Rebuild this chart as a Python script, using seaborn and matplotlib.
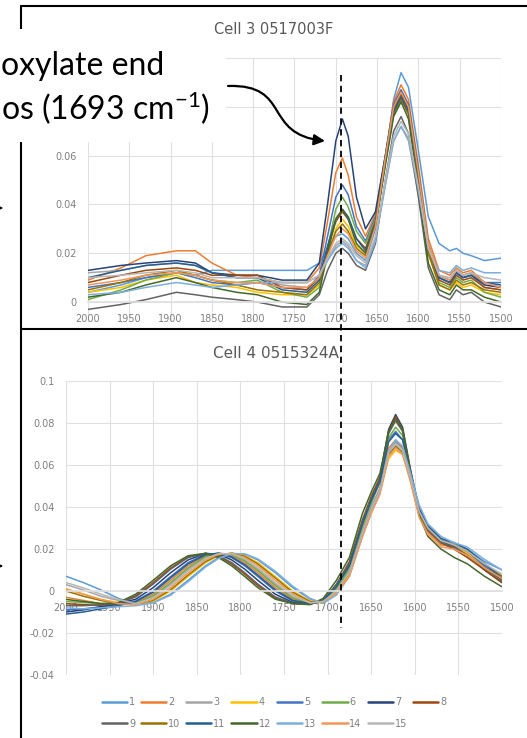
import numpy as np
import pandas as pd
import matplotlib
matplotlib.use("Agg")
import matplotlib.pyplot as plt
import seaborn as sns
from matplotlib.patches import Rectangle, FancyArrowPatch
from matplotlib.path import Path
from matplotlib.lines import Line2D
from matplotlib.ticker import FuncFormatter, MultipleLocator

# --- data (absorbance in units of 1e-3) ---
c3_wavenumber = [2000, 1960, 1930, 1893, 1870, 1850, 1820, 1795, 1765, 1735, 1720, 1710, 1700, 1692, 1685,
                 1675, 1664, 1652, 1640, 1630, 1621, 1612, 1600, 1588, 1575, 1562, 1554, 1546, 1536, 1520, 1500]

c3_01 = [4, 7, 10, 12, 11, 13, 13, 13, 13, 13, 16, 22, 27, 28, 26, 20, 17, 30, 58, 83, 94, 88, 62, 35, 24, 21, 22, 20, 19, 17, 18]
c3_02 = [9, 14, 19, 21, 21, 16, 11, 10, 8, 8, 14, 33, 53, 59, 52, 35, 27, 36, 60, 82, 89, 83, 56, 26, 13, 11, 14, 12, 13, 8, 6]
c3_03 = [12, 13, 15, 16, 15, 12, 10, 10, 7, 6, 10, 17, 23, 25, 23, 17, 15, 26, 48, 66, 72, 66, 44, 20, 10, 8, 12, 10, 11, 6, 5]
c3_04 = [4, 6, 9, 11, 8, 7, 6, 4, 3, 3, 7, 18, 30, 34, 31, 23, 20, 32, 58, 78, 84, 77, 50, 20, 7, 5, 8, 6, 7, 4, 3]
c3_05 = [6, 8, 10, 12, 10, 8, 7, 8, 6, 5, 11, 27, 43, 48, 44, 31, 25, 35, 60, 81, 87, 81, 54, 24, 11, 9, 13, 11, 12, 8, 8]
c3_06 = [1, 5, 9, 12, 11, 9, 8, 9, 4, 2, 6, 22, 38, 43, 39, 29, 24, 34, 59, 79, 85, 79, 51, 20, 8, 6, 10, 8, 9, 4, 2]
c3_07 = [13, 15, 16, 17, 16, 12, 11, 11, 9, 9, 16, 40, 66, 75, 68, 43, 30, 37, 60, 80, 86, 80, 53, 23, 10, 8, 12, 10, 11, 7, 6]
c3_08 = [8, 11, 13, 14, 13, 11, 11, 11, 6, 5, 10, 22, 33, 37, 34, 26, 22, 33, 58, 79, 85, 79, 52, 22, 9, 7, 11, 9, 10, 6, 5]
c3_09 = [-3, -1, 1, 4, 3, 2, 1, 0, -2, -2, 3, 13, 20, 22, 20, 15, 13, 24, 50, 70, 76, 69, 43, 14, 3, 1, 5, 3, 4, 0, -2]
c3_10 = [5, 8, 11, 13, 11, 9, 7, 5, 4, 3, 8, 19, 29, 32, 29, 22, 19, 31, 57, 77, 83, 77, 50, 20, 7, 5, 9, 7, 8, 5, 4]
c3_11 = [10, 13, 15, 16, 15, 12, 10, 10, 5, 4, 9, 23, 34, 38, 35, 26, 21, 32, 58, 78, 84, 78, 52, 23, 10, 8, 12, 10, 11, 8, 7]
c3_12 = [2, 4, 7, 10, 8, 6, 4, 3, 0, -1, 4, 20, 34, 38, 34, 24, 20, 31, 56, 76, 82, 75, 47, 16, 5, 3, 7, 5, 5, 2, 0]
c3_13 = [3, 4, 6, 8, 7, 6, 7, 8, 8, 8, 11, 17, 22, 24, 22, 17, 14, 25, 48, 66, 72, 67, 46, 22, 13, 12, 15, 13, 14, 12, 12]
c3_14 = [7, 9, 11, 12, 11, 9, 8, 8, 6, 6, 10, 19, 27, 30, 28, 21, 18, 31, 59, 80, 86, 80, 53, 24, 11, 9, 13, 11, 12, 8, 6]
c3_15 = [10, 11, 12, 13, 12, 10, 10, 10, 8, 8, 11, 18, 24, 26, 24, 19, 16, 27, 50, 68, 74, 69, 47, 22, 11, 10, 13, 11, 12, 10, 9]

c4_wavenumber = [2000, 1980, 1960, 1940, 1920, 1900, 1880, 1860, 1840, 1825, 1810, 1795, 1780, 1760, 1740, 1720, 1705,
                 1690, 1675, 1660, 1650, 1640, 1630, 1622, 1614, 1605, 1595, 1585, 1570, 1555, 1540, 1520, 1500]

c4_01 = [7, 4, 0.5, -3.5, -6, -5.5, -1.5, 5.1, 12, 15.9, 17.9, 17.5, 14.8, 8.7, 1.6, -3.9, -5.9,
         -1, 8, 28, 39, 48, 66, 71, 68, 55, 40, 31, 25, 22, 20, 14, 10]
c4_02 = [-3, -4.5, -6, -6.5, -5.5, -1.5, 5.1, 12, 16.8, 18, 16.8, 13.5, 8.7, 1.6, -3.9, -6, -5,
         0, 9, 29, 39, 49, 68, 72, 68, 53, 36, 28, 22, 21, 18, 12, 6]
c4_03 = [3, 0.5, -2.5, -4.5, -5.9, -2.8, 3.3, 10.4, 15.9, 17.9, 17.5, 14.8, 10.4, 3.3, -2.8, -5.9, -5,
         1, 10, 30, 40, 49, 67, 70, 67, 54, 38, 30, 24, 22, 19, 13, 7]
c4_04 = [1, -1.5, -4, -5.5, -6.2, -4.8, 0, 6.9, 13.5, 16.8, 18, 16.8, 13.5, 6.9, 0, -4.8, -5.8,
         -1, 8, 27, 38, 47, 63, 67, 65, 53, 37, 29, 23, 21, 18, 12, 6]
c4_05 = [-9, -8.5, -7.5, -6.5, -4.8, 0, 6.9, 13.5, 17.5, 17.9, 15.9, 12, 6.9, 0, -4.8, -6, -4.5,
         2, 12, 32, 42, 52, 72, 76, 72, 56, 39, 30, 24, 22, 19, 12, 5]
c4_06 = [-5, -5.5, -6, -6.2, -5.8, -2.3, 4, 11, 16.3, 18, 17.2, 14.3, 9.7, 2.6, -3.3, -6, -4.5,
         1, 11, 31, 42, 52, 73, 78, 74, 57, 38, 29, 23, 20, 17, 11, 5]
c4_07 = [-10, -9, -7.5, -6, -3.9, 1.6, 8.7, 14.8, 17.9, 17.5, 14.8, 10.4, 5.1, -1.5, -5.5, -6.2, -4.3,
         3, 13, 33, 44, 54, 77, 84, 78, 58, 39, 30, 24, 21, 17, 10, 4]
c4_08 = [-6, -6.5, -6.8, -5.8, -2.3, 4, 11, 16.3, 17.9, 16.5, 12.9, 8, 2.6, -3.3, -6, -6.3, -4.5,
         3, 14, 34, 45, 54, 76, 83, 77, 57, 38, 29, 23, 20, 16, 10, 4]
c4_09 = [-7, -7, -6.5, -5.9, -2.8, 3.3, 10.4, 15.9, 18, 16.8, 13.5, 8.7, 3.3, -2.8, -5.9, -6.2, -4.5,
         3, 13, 33, 44, 53, 75, 81, 76, 57, 38, 29, 23, 21, 17, 11, 5]
c4_10 = [0, -2.5, -4.5, -6, -6.3, -4.4, 0.6, 7.6, 14, 17.1, 18, 16.5, 12.9, 6.2, -0.6, -5, -5.5,
         0, 9, 28, 39, 48, 65, 69, 66, 54, 38, 30, 24, 22, 19, 13, 7]
c4_11 = [-11, -10, -8.5, -7, -5, -0.6, 6.2, 12.9, 17.2, 18, 16.2, 12.6, 7.6, 0.6, -4.5, -6, -4.8,
         2, 12, 32, 43, 52, 71, 75, 72, 56, 39, 31, 25, 23, 20, 13, 6]
c4_12 = [-4, -5, -6, -5.5, -1.5, 5.1, 12, 16.8, 17.9, 15.9, 12, 6.9, 1.6, -3.9, -6, -6.5, -3.5,
         5, 16, 37, 47, 56, 76, 82, 77, 56, 36, 26, 20, 16, 13, 7, 2]
c4_13 = [-8, -8.5, -8, -7.5, -7, -5.7, -2, 4.4, 11.4, 15.5, 17.8, 17.7, 15.3, 9.4, 2.3, -3.5, -5.8,
         -2, 7, 26, 37, 47, 66, 72, 69, 56, 41, 32, 26, 23, 21, 15, 10]
c4_14 = [1, -1.5, -4, -6, -6.5, -3.9, 1.6, 8.7, 14.8, 17.5, 17.9, 15.9, 12, 5.1, -1.5, -5.5, -5,
         -1, 7, 26, 37, 46, 64, 68, 65, 52, 35, 27, 21, 20, 17, 11, 6]
c4_15 = [4, 1.5, -1.5, -4, -6, -3.2, 2.6, 9.7, 15.5, 17.8, 17.7, 15.3, 11, 4, -2.3, -5.7, -5,
         0, 9, 28, 39, 48, 66, 70, 67, 54, 38, 30, 24, 22, 19, 13, 8]

series_labels = [str(i) for i in range(1, 16)]
series_colors = ["#5B9BD5", "#ED7D31", "#A5A5A5", "#FFC000", "#4472C4", "#70AD47", "#264478", "#9E480E",
                 "#636363", "#997300", "#255E91", "#43682B", "#7CAFDD", "#F1975A", "#B7B7B7"]

cell3_title = "Cell 3 0517003F"
cell4_title = "Cell 4 0515324A"
note_line1 = "oxylate end"
note_line2 = "os (1693 cm$^{-1}$)"

c3_rows = [c3_01, c3_02, c3_03, c3_04, c3_05, c3_06, c3_07, c3_08, c3_09, c3_10, c3_11, c3_12, c3_13, c3_14, c3_15]
c4_rows = [c4_01, c4_02, c4_03, c4_04, c4_05, c4_06, c4_07, c4_08, c4_09, c4_10, c4_11, c4_12, c4_13, c4_14, c4_15]

W, H = 527, 738
GRID = "#E0E0E0"
TICK = "#7F7F7F"


def fx(px):
    return px / W


def fy(py):
    return 1 - py / H


def long_frame(wn, rows):
    recs = []
    for lab, vals in zip(series_labels, rows):
        assert len(vals) == len(wn)
        for w, v in zip(wn, vals):
            recs.append((w, v / 1000.0, lab))
    return pd.DataFrame(recs, columns=["wavenumber", "absorbance", "series"])


def style_axes(ax, ylim, yticks, ylab_max):
    ax.set_xlim(2000, 1500)
    ax.set_ylim(*ylim)
    ax.xaxis.set_major_locator(MultipleLocator(50))
    ax.set_yticks(yticks)
    ax.grid(True, color=GRID, lw=0.8)
    ax.set_axisbelow(True)
    for s in ["top", "right", "left"]:
        ax.spines[s].set_visible(False)
    ax.spines["bottom"].set_position(("data", 0))
    ax.spines["bottom"].set_color(GRID)
    ax.tick_params(length=0, labelsize=7, colors=TICK)
    ax.tick_params(axis="x", pad=8.5)
    ax.tick_params(axis="y", pad=8)
    ax.xaxis.set_major_formatter(FuncFormatter(lambda v, p: f"{v:.0f}"))
    # labels hidden behind the callout box are left out
    ax.yaxis.set_major_formatter(FuncFormatter(lambda v, p: f"{round(v, 3):g}" if v <= ylab_max else ""))
    ax.set_xlabel("")
    ax.set_ylabel("")


sns.set_theme(style="white")
plt.rcParams["font.family"] = ["DejaVu Sans"]
plt.rcParams["mathtext.default"] = "regular"

fig = plt.figure(figsize=(W / 100, H / 100), dpi=100)
fig.patch.set_facecolor("white")

ax3 = fig.add_axes([fx(88), fy(321.6), fx(501) - fx(88), fy(58) - fy(321.6)])
ax4 = fig.add_axes([fx(66), fy(675), fx(502) - fx(66), fy(381) - fy(675)], zorder=1)

df3 = long_frame(c3_wavenumber, c3_rows)
df4 = long_frame(c4_wavenumber, c4_rows)

sns.lineplot(data=df3, x="wavenumber", y="absorbance", hue="series", hue_order=series_labels,
             palette=series_colors, estimator=None, lw=1.1, legend=False, ax=ax3)
sns.lineplot(data=df4, x="wavenumber", y="absorbance", hue="series", hue_order=series_labels,
             palette=series_colors, estimator=None, lw=1.1, legend=True, ax=ax4)

style_axes(ax3, (-0.008, 0.1), [0, 0.02, 0.04, 0.06, 0.08, 0.1], 0.07)
style_axes(ax4, (-0.04, 0.1), [-0.04, -0.02, 0, 0.02, 0.04, 0.06, 0.08, 0.1], 0.2)

# legend in rows of 8 (matplotlib fills columns first)
handles, labels = ax4.get_legend_handles_labels()
ax4.get_legend().remove()
order = []
for j in range(8):
    order.append(j)
    if j + 8 < len(handles):
        order.append(j + 8)
leg = fig.legend([handles[i] for i in order], [labels[i] for i in order], ncol=8,
                 loc="upper center", bbox_to_anchor=(fx(274), fy(697)), bbox_transform=fig.transFigure,
                 frameon=False, fontsize=7, handlelength=2.6, handletextpad=0.2, columnspacing=0.6,
                 labelspacing=1.2, borderpad=0, borderaxespad=0, labelcolor=TICK)
for ln in leg.get_lines():
    ln.set_linewidth(1.8)

# chart titles (centred on the chart area, as Excel does)
fig.text(fx(274), fy(29), cell3_title, ha="center", va="center", fontsize=10.5, color="#595959")
fig.text(fx(276), fy(353), cell4_title, ha="center", va="center", fontsize=11, color="#595959")

# slide frames
frame_kw = dict(transform=fig.transFigure, color="black", lw=1.5, zorder=2)
fig.add_artist(Line2D([fx(21), fx(540)], [fy(6), fy(6)], **frame_kw))
fig.add_artist(Line2D([fx(21), fx(21)], [fy(6), fy(750)], **frame_kw))
fig.add_artist(Line2D([fx(21), fx(540)], [fy(329), fy(329)], **frame_kw))

# callout box
fig.add_artist(Rectangle((fx(-5), fy(142)), fx(231), fy(29) - fy(142), transform=fig.transFigure,
                         facecolor="white", edgecolor="none", zorder=3))
fig.text(fx(1), fy(75), note_line1, fontsize=23, family=["Lato", "DejaVu Sans"], ha="left",
         va="baseline", color="black", zorder=4)
fig.text(fx(1), fy(120), note_line2, fontsize=23, family=["Lato", "DejaVu Sans"], ha="left",
         va="baseline", color="black", zorder=4)

# curved arrow to the 1693 peak
pts = [(228, 86), (292, 84), (262, 134), (325, 141)]
verts = [(fx(x), fy(y)) for x, y in pts]
arrow = FancyArrowPatch(path=Path(verts, [Path.MOVETO, Path.CURVE4, Path.CURVE4, Path.CURVE4]),
                        arrowstyle="-|>", mutation_scale=16, lw=1.6, color="black",
                        transform=fig.transFigure, zorder=5)
fig.add_artist(arrow)

# vertical dashed marker through both panels
fig.add_artist(Line2D([fx(341), fx(341)], [fy(75), fy(628)], transform=fig.transFigure,
                      color="black", lw=1.3, dashes=(3.5, 2.5), zorder=5))

# small arrow tips entering from the left edge
for yy in (208, 566):
    fig.add_artist(FancyArrowPatch(posA=(fx(-12), fy(yy)), posB=(fx(6), fy(yy)), arrowstyle="-|>",
                                   mutation_scale=8, lw=1.0, color="black",
                                   transform=fig.transFigure, zorder=5))

fig.savefig("out.png", dpi=100)
